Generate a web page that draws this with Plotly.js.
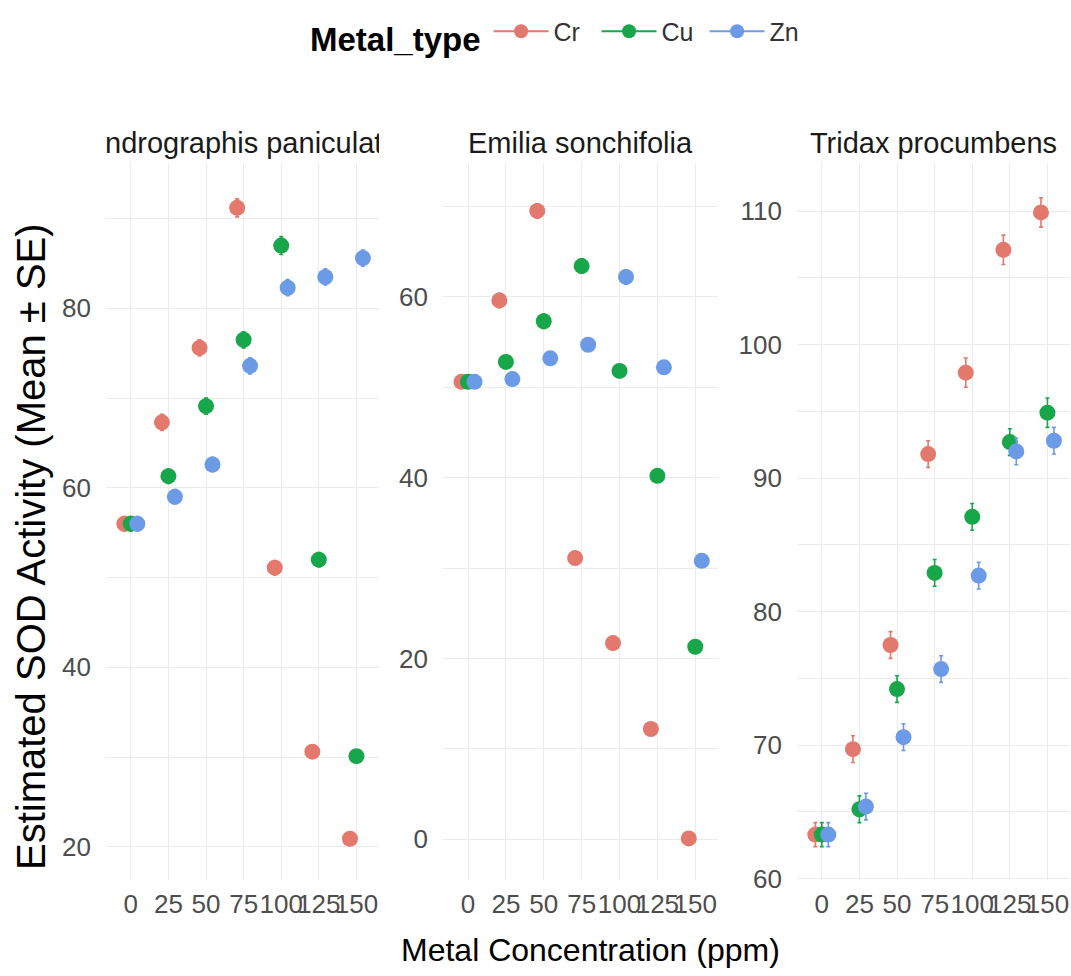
<!DOCTYPE html>
<html>
<head>
<meta charset="utf-8">
<script src="https://cdn.plot.ly/plotly-3.0.1.min.js"></script>
<style>html,body{margin:0;padding:0;background:#fff;}#chart{width:1071px;height:976px;}</style>
</head>
<body>
<div id="chart"></div>
<script>
// ---- data ----
const concentrations = [0, 25, 50, 75, 100, 125, 150];
const species = ['Andrographis paniculata', 'Emilia sonchifolia', 'Tridax procumbens'];
const metals = ['Cr', 'Cu', 'Zn'];

// Andrographis paniculata
const andro_Cr = [56.0, 67.3, 75.6, 91.2, 51.1, 30.6, 20.9];
const andro_Cu = [56.0, 61.3, 69.1, 76.5, 87.0, 52.0, 30.1];
const andro_Zn = [56.0, 59.0, 62.6, 73.6, 82.3, 83.5, 85.6];
const andro_Cr_se = [0.8, 0.9, 0.9, 1.0, 0.8, 0.7, 0.7];
const andro_Cu_se = [0.8, 0.8, 0.9, 0.9, 1.0, 0.8, 0.7];
const andro_Zn_se = [0.8, 0.8, 0.8, 0.9, 0.9, 0.9, 0.9];

// Emilia sonchifolia
const emilia_Cr = [50.6, 59.6, 69.5, 31.1, 21.7, 12.2, 0.1];
const emilia_Cu = [50.6, 52.8, 57.3, 63.4, 51.8, 40.2, 21.3];
const emilia_Zn = [50.6, 50.9, 53.2, 54.7, 62.2, 52.2, 30.8];
const emilia_Cr_se = [0.7, 0.8, 0.8, 0.6, 0.6, 0.6, 0.5];
const emilia_Cu_se = [0.7, 0.7, 0.8, 0.8, 0.7, 0.7, 0.6];
const emilia_Zn_se = [0.7, 0.7, 0.7, 0.7, 0.8, 0.7, 0.6];

// Tridax procumbens
const tridax_Cr = [63.3, 69.7, 77.5, 91.8, 97.9, 107.1, 109.9];
const tridax_Cu = [63.3, 65.2, 74.2, 82.9, 87.1, 92.7, 94.9];
const tridax_Zn = [63.3, 65.4, 70.6, 75.7, 82.7, 92.0, 92.8];
const tridax_Cr_se = [0.9, 1.0, 1.0, 1.0, 1.1, 1.1, 1.1];
const tridax_Cu_se = [0.9, 1.0, 1.0, 1.0, 1.0, 1.0, 1.1];
const tridax_Zn_se = [0.9, 1.0, 1.0, 1.0, 1.0, 1.0, 1.0];

const yTickVals1 = [20, 40, 60, 80];
const yTickVals2 = [0, 20, 40, 60];
const yTickVals3 = [60, 70, 80, 90, 100, 110];

// ---- styling ----
const colors = {Cr: '#E3786D', Cu: '#18A64A', Zn: '#6B9BE6'};
const dodge = {Cr: -4.3, Cu: 0, Zn: 4.3};
const FONT = 'Liberation Sans, Arial, sans-serif';
const W = 1071, H = 976, T = 163, B = 96;
const px = v => v / W;
const py = v => (H - B - v) / (H - T - B);

const panelData = [
  {Cr: andro_Cr, Cu: andro_Cu, Zn: andro_Zn, se: {Cr: andro_Cr_se, Cu: andro_Cu_se, Zn: andro_Zn_se}},
  {Cr: emilia_Cr, Cu: emilia_Cu, Zn: emilia_Zn, se: {Cr: emilia_Cr_se, Cu: emilia_Cu_se, Zn: emilia_Zn_se}},
  {Cr: tridax_Cr, Cu: tridax_Cu, Zn: tridax_Zn, se: {Cr: tridax_Cr_se, Cu: tridax_Cu_se, Zn: tridax_Zn_se}}
];
const suffix = ['', '2', '3'];

const traces = [];
panelData.forEach((pd, i) => {
  metals.forEach(m => {
    traces.push({
      type: 'scatter', mode: 'markers',
      x: concentrations.map(c => c + dodge[m]),
      y: pd[m],
      error_y: {type: 'data', array: pd.se[m], visible: true, color: colors[m], thickness: 1.6, width: 2},
      marker: {color: colors[m], size: 16},
      xaxis: 'x' + suffix[i], yaxis: 'y' + suffix[i],
      name: m, showlegend: false, hoverinfo: 'skip'
    });
  });
});
metals.forEach(m => {
  traces.push({
    type: 'scatter', mode: 'lines+markers', x: [null], y: [null],
    name: m, line: {color: colors[m], width: 2}, marker: {color: colors[m], size: 14},
    xaxis: 'x', yaxis: 'y', showlegend: true
  });
});

const grid = '#EBEBEB';
const xRange = [-16.5, 165];
const domains = [[px(106), px(379)], [px(443), px(718)], [px(797), px(1070)]];
function xax(i) {
  return {
    domain: domains[i], range: xRange, anchor: 'y' + suffix[i],
    tickmode: 'array', tickvals: concentrations, tickangle: 0, ticklabeloverflow: 'allow',
    showgrid: true, gridcolor: grid, gridwidth: 1, zeroline: false, showline: false, ticks: '',
    tickfont: {family: FONT, size: 26, color: '#4D4D4D'}, ticklabelstandoff: 6, fixedrange: true
  };
}
function yax(i, range, vals, minorD) {
  return {
    domain: [0, 1], range: range, anchor: 'x' + suffix[i],
    tickmode: 'array', tickvals: vals,
    showgrid: true, gridcolor: grid, gridwidth: 1, zeroline: false, showline: false, ticks: '',
    minor: {dtick: minorD, tick0: 0, showgrid: true, gridcolor: grid, gridwidth: 1, ticks: ''},
    tickfont: {family: FONT, size: 26, color: '#4D4D4D'}, ticklabelstandoff: 14, fixedrange: true
  };
}

const annotations = species.map((s, i) => ({
  text: s, xref: 'paper', yref: 'paper',
  x: (domains[i][0] + domains[i][1]) / 2, y: py(143),
  xanchor: 'center', yanchor: 'middle', align: 'center',
  width: Math.round((domains[i][1] - domains[i][0]) * W),
  showarrow: false, font: {family: FONT, size: 29, color: '#1A1A1A'}
}));
annotations.push({
  text: 'Metal Concentration (ppm)', xref: 'paper', yref: 'paper',
  x: px(590), y: py(950), xanchor: 'center', yanchor: 'middle', showarrow: false,
  font: {family: FONT, size: 32, color: '#000000'}
});
annotations.push({
  text: 'Estimated SOD Activity (Mean ± SE)', xref: 'paper', yref: 'paper',
  x: px(31), y: py(547), xanchor: 'center', yanchor: 'middle', textangle: -90, showarrow: false,
  font: {family: FONT, size: 40, color: '#000000'}
});

const layout = {
  width: W, height: H,
  margin: {l: 0, r: 0, t: T, b: B, pad: 0},
  paper_bgcolor: '#FFFFFF', plot_bgcolor: '#FFFFFF',
  showlegend: true,
  legend: {
    orientation: 'h', x: px(308), xanchor: 'left', y: py(35), yanchor: 'middle',
    title: {text: '<b>Metal_type</b>', side: 'left', font: {family: FONT, size: 33, color: '#000000'}},
    font: {family: FONT, size: 25, color: '#333333'}, bgcolor: 'rgba(0,0,0,0)',
    itemwidth: 55, entrywidth: 38
  },
  xaxis: xax(0), xaxis2: xax(1), xaxis3: xax(2),
  yaxis: yax(0, [16.3, 96.2], yTickVals1, 10),
  yaxis2: yax(1, [-4.5, 74.8], yTickVals2, 10),
  yaxis3: yax(2, [59.9, 113.6], yTickVals3, 5),
  annotations: annotations
};

Plotly.newPlot('chart', traces, layout, {displayModeBar: false, staticPlot: true});
</script>
</body>
</html>
